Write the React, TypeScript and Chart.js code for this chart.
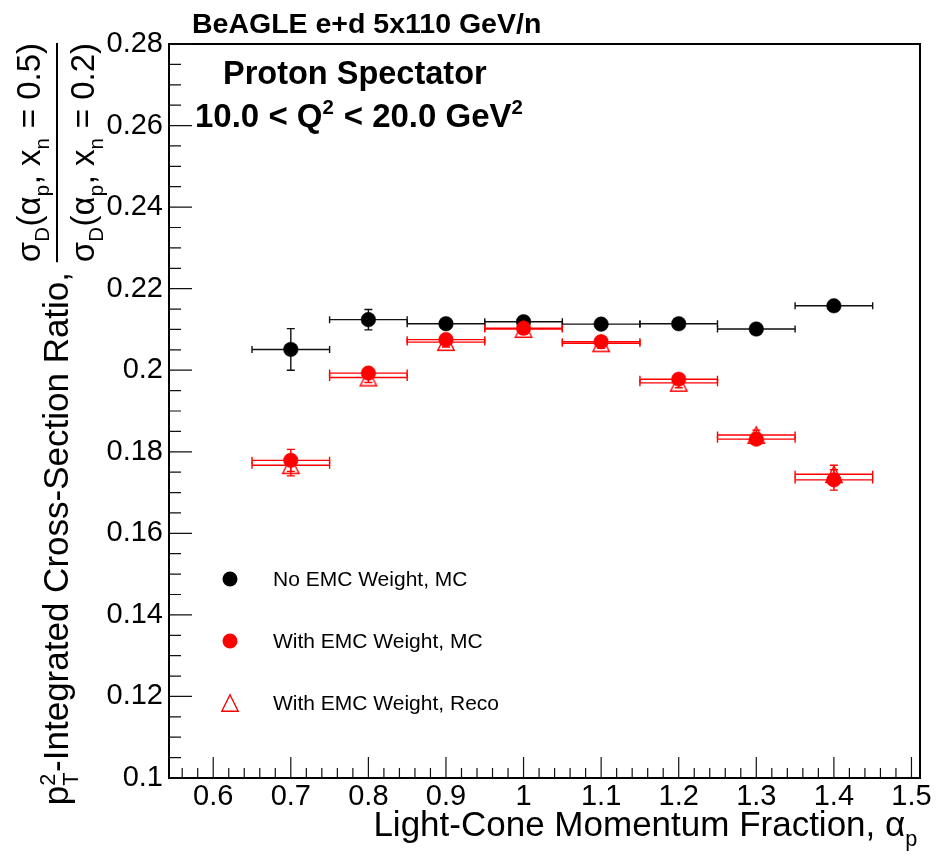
import React, { useEffect, useRef } from 'react';
import { Chart, registerables } from 'chart.js';
Chart.register(...registerables);

// ---- data ----
const alphaBins = [0.7, 0.8, 0.9, 1.0, 1.1, 1.2, 1.3, 1.4];
const binHalfWidth = 0.05;
const noEmcMC = [0.2051, 0.2124, 0.2114, 0.2119, 0.2113, 0.2114, 0.2101, 0.2158];
const noEmcMCErr = [0.0051, 0.0025, 0.0012, 0.0012, 0.0012, 0.0012, 0.0012, 0.0012];
const emcMC = [0.1779, 0.1993, 0.2075, 0.2103, 0.207, 0.1978, 0.1831, 0.1731];
const emcMCErr = [0.0027, 0.0012, 0.0012, 0.0012, 0.0012, 0.0012, 0.0012, 0.0025];
const emcReco = [0.1767, 0.1982, 0.2069, 0.2101, 0.2066, 0.1969, 0.1841, 0.1745];
const emcRecoErr = [0.0026, 0.0012, 0.0012, 0.0012, 0.0012, 0.0012, 0.0012, 0.0022];

const xTicks = [0.6, 0.7, 0.8, 0.9, 1.0, 1.1, 1.2, 1.3, 1.4, 1.5];
const xTickLabels = ['0.6', '0.7', '0.8', '0.9', '1', '1.1', '1.2', '1.3', '1.4', '1.5'];
const yTicks = [0.1, 0.12, 0.14, 0.16, 0.18, 0.2, 0.22, 0.24, 0.26, 0.28];
const yTickLabels = ['0.1', '0.12', '0.14', '0.16', '0.18', '0.2', '0.22', '0.24', '0.26', '0.28'];

const legendLabels = ['No EMC Weight, MC', 'With EMC Weight, MC', 'With EMC Weight, Reco'];
const titleText = 'BeAGLE e+d 5x110 GeV/n';
const labelText = 'Proton Spectator';

const FAMILY = '"Liberation Sans", Arial, Helvetica, sans-serif';
const RED = '#ff0000';

type Seg = { t?: string; sup?: string; sub?: string };

function drawRich(ctx: CanvasRenderingContext2D, segs: Seg[], x: number, y: number, size: number, weight: string, draw = true): number {
  let cx = x;
  for (const g of segs) {
    if (g.sup !== undefined || g.sub !== undefined) {
      const ss = size * 0.62;
      ctx.font = `${weight} ${ss}px ${FAMILY}`;
      let w = 0;
      if (g.sup) {
        if (draw) ctx.fillText(g.sup, cx, y - size * 0.38);
        w = Math.max(w, ctx.measureText(g.sup).width);
      }
      if (g.sub) {
        if (draw) ctx.fillText(g.sub, cx, y + size * 0.28);
        w = Math.max(w, ctx.measureText(g.sub).width);
      }
      cx += w + size * 0.02;
    } else {
      ctx.font = `${weight} ${size}px ${FAMILY}`;
      if (draw) ctx.fillText(g.t || '', cx, y);
      cx += ctx.measureText(g.t || '').width;
    }
  }
  return cx - x;
}

function makeTriangle(): HTMLCanvasElement {
  const c = document.createElement('canvas');
  c.width = 22;
  c.height = 22;
  const g = c.getContext('2d')!;
  g.strokeStyle = RED;
  g.lineWidth = 1.4;
  const h = 8.2;
  g.beginPath();
  g.moveTo(11 - h, 11 + h);
  g.lineTo(11 + h, 11 + h);
  g.lineTo(11, 11 - h);
  g.closePath();
  g.stroke();
  return c;
}

export default function App() {
  const ref = useRef<HTMLCanvasElement>(null);
  useEffect(() => {
    const canvas = ref.current!;
    const tri = makeTriangle();

    const rootPlugin = {
      id: 'rootStyle',
      beforeDatasetDraw(chart: any, args: any) {
        const ds = chart.data.datasets[args.index];
        const xs = chart.scales.x;
        const ys = chart.scales.y;
        const ctx: CanvasRenderingContext2D = chart.ctx;
        ctx.save();
        ctx.strokeStyle = ds.errColor;
        ctx.lineWidth = 1.4;
        const cap = 3.5;
        ds.data.forEach((p: any, i: number) => {
          const px = xs.getPixelForValue(p.x);
          const py = ys.getPixelForValue(p.y);
          const xl = xs.getPixelForValue(p.x - binHalfWidth);
          const xr = xs.getPixelForValue(p.x + binHalfWidth);
          const yt = ys.getPixelForValue(p.y + ds.errY[i]);
          const yb = ys.getPixelForValue(p.y - ds.errY[i]);
          ctx.beginPath();
          ctx.moveTo(xl, py); ctx.lineTo(xr, py);
          ctx.moveTo(xl, py - cap); ctx.lineTo(xl, py + cap);
          ctx.moveTo(xr, py - cap); ctx.lineTo(xr, py + cap);
          ctx.moveTo(px, yt); ctx.lineTo(px, yb);
          ctx.moveTo(px - 4, yt); ctx.lineTo(px + 4, yt);
          ctx.moveTo(px - 4, yb); ctx.lineTo(px + 4, yb);
          ctx.stroke();
        });
        ctx.restore();
      },
      afterDraw(chart: any) {
        const ctx: CanvasRenderingContext2D = chart.ctx;
        const a = chart.chartArea;
        const xs = chart.scales.x;
        const ys = chart.scales.y;
        ctx.save();
        // frame
        ctx.strokeStyle = '#000';
        ctx.lineWidth = 2;
        ctx.strokeRect(a.left, a.top, a.right - a.left, a.bottom - a.top);
        // ticks
        ctx.lineWidth = 1.2;
        ctx.strokeStyle = '#111';
        ctx.beginPath();
        for (let k = 0; k <= 200; k++) {
          const v = Math.round(k * 2) / 100;
          if (v < xs.min || v > xs.max) continue;
          const px = xs.getPixelForValue(v);
          const major = k % 5 === 0;
          ctx.moveTo(px, a.bottom);
          ctx.lineTo(px, a.bottom - (major ? 21 : 10));
        }
        for (let k = 20; k <= 56; k++) {
          const v = k * 0.005;
          if (v < ys.min - 1e-9 || v > ys.max + 1e-9) continue;
          const py = ys.getPixelForValue(v);
          const major = k % 4 === 0;
          ctx.moveTo(a.left, py);
          ctx.lineTo(a.left + (major ? 23 : 12), py);
        }
        ctx.stroke();

        ctx.fillStyle = '#000';
        ctx.textAlign = 'left';
        ctx.textBaseline = 'alphabetic';
        // title
        ctx.font = `bold 28.5px ${FAMILY}`;
        ctx.fillText(titleText, 192, 33);
        ctx.font = `bold 32.5px ${FAMILY}`;
        ctx.fillText(labelText, 223, 84);
        drawRich(ctx, [{ t: '10.0 < Q' }, { sup: '2' }, { t: ' < 20.0 GeV' }, { sup: '2' }], 195, 127, 33, 'bold');

        // legend
        const lx = 230;
        const ly = [579, 641, 703];
        ctx.fillStyle = '#000';
        ctx.beginPath(); ctx.arc(lx, ly[0], 7.5, 0, Math.PI * 2); ctx.fill();
        ctx.fillStyle = RED;
        ctx.beginPath(); ctx.arc(lx, ly[1], 7.5, 0, Math.PI * 2); ctx.fill();
        ctx.drawImage(tri, lx - 11, ly[2] - 11);
        ctx.fillStyle = '#000';
        ctx.font = `21px ${FAMILY}`;
        legendLabels.forEach((t, i) => ctx.fillText(t, 273, ly[i] + 7));

        // x axis title (right aligned)
        const xSegs: Seg[] = [{ t: 'Light-Cone Momentum Fraction, \u03b1' }, { sub: 'p' }];
        const xw = drawRich(ctx, xSegs, 0, 0, 35, 'normal', false);
        drawRich(ctx, xSegs, 918 - xw, 836, 35, 'normal');

        // y axis title (rotated)
        const mainSegs: Seg[] = [{ t: 'p' }, { sup: '2', sub: 'T' }, { t: '-Integrated Cross-Section Ratio, ' }];
        const numSegs: Seg[] = [{ t: '\u03c3' }, { sub: 'D' }, { t: '(\u03b1' }, { sub: 'p' }, { t: ', x' }, { sub: 'n' }, { t: ' = 0.5)' }];
        const denSegs: Seg[] = [{ t: '\u03c3' }, { sub: 'D' }, { t: '(\u03b1' }, { sub: 'p' }, { t: ', x' }, { sub: 'n' }, { t: ' = 0.2)' }];
        const mw = drawRich(ctx, mainSegs, 0, 0, 35, 'normal', false);
        const nw = drawRich(ctx, numSegs, 0, 0, 33, 'normal', false);
        const dw = drawRich(ctx, denSegs, 0, 0, 33, 'normal', false);
        const fw = Math.max(nw, dw);
        const endY = 43;
        const startY = endY + mw + fw;
        ctx.translate(68, 0);
        ctx.rotate(-Math.PI / 2);
        drawRich(ctx, mainSegs, -startY, 0, 35, 'normal');
        const fx = -startY + mw;
        drawRich(ctx, numSegs, fx + (fw - nw) / 2, -28, 33, 'normal');
        drawRich(ctx, denSegs, fx + (fw - dw) / 2, 26, 33, 'normal');
        ctx.lineWidth = 2;
        ctx.strokeStyle = '#000';
        ctx.beginPath();
        ctx.moveTo(fx, -11);
        ctx.lineTo(fx + fw, -11);
        ctx.stroke();
        ctx.restore();
      },
    };

    const pts = (ys: number[]) => alphaBins.map((x, i) => ({ x, y: ys[i] }));

    const chart = new Chart(canvas, {
      type: 'scatter',
      data: {
        datasets: [
          {
            label: legendLabels[1],
            data: pts(emcMC),
            pointStyle: 'circle',
            pointRadius: 7.3,
            pointBackgroundColor: RED,
            pointBorderColor: RED,
            pointBorderWidth: 0.5,
            showLine: false,
            errY: emcMCErr,
            errColor: RED,
          } as any,
          {
            label: legendLabels[2],
            data: pts(emcReco),
            pointStyle: tri,
            pointRadius: 8,
            showLine: false,
            errY: emcRecoErr,
            errColor: RED,
          } as any,
          {
            label: legendLabels[0],
            data: pts(noEmcMC),
            pointStyle: 'circle',
            pointRadius: 7.3,
            pointBackgroundColor: '#000',
            pointBorderColor: '#000',
            pointBorderWidth: 0.5,
            showLine: false,
            errY: noEmcMCErr,
            errColor: '#111',
          } as any,
        ],
      },
      options: {
        responsive: false,
        animation: false,
        devicePixelRatio: 1,
        events: [],
        layout: { padding: { left: 0, top: 44, right: 16, bottom: 0 } },
        plugins: { legend: { display: false }, tooltip: { enabled: false }, title: { display: false } },
        scales: {
          x: {
            type: 'linear',
            min: 0.543,
            max: 1.511,
            border: { display: false },
            grid: { display: false, drawTicks: false },
            afterBuildTicks: (s: any) => {
              s.ticks = xTicks.map((v) => ({ value: v }));
            },
            afterFit: (s: any) => {
              s.height = 81;
              s.paddingLeft = 0;
              s.paddingRight = 0;
            },
            ticks: {
              autoSkip: false,
              maxRotation: 0,
              padding: 2,
              color: '#000',
              font: { family: FAMILY, size: 29 },
              callback: (_v: any, i: number) => xTickLabels[i],
            },
          },
          y: {
            type: 'linear',
            min: 0.1,
            max: 0.28,
            border: { display: false },
            grid: { display: false, drawTicks: false },
            afterBuildTicks: (s: any) => {
              s.ticks = yTicks.map((v) => ({ value: v }));
            },
            afterFit: (s: any) => {
              s.width = 169;
              s.paddingTop = 0;
              s.paddingBottom = 0;
            },
            ticks: {
              autoSkip: false,
              padding: 6,
              color: '#000',
              font: { family: FAMILY, size: 29 },
              callback: (_v: any, i: number) => yTickLabels[i],
            },
          },
        },
      },
      plugins: [rootPlugin],
    } as any);
    return () => chart.destroy();
  }, []);

  return (
    <div style={{ position: 'fixed', left: 0, top: 0, width: 936, height: 859, background: '#fff' }}>
      <canvas ref={ref} width={936} height={859} style={{ display: 'block', width: 936, height: 859 }} />
    </div>
  );
}
